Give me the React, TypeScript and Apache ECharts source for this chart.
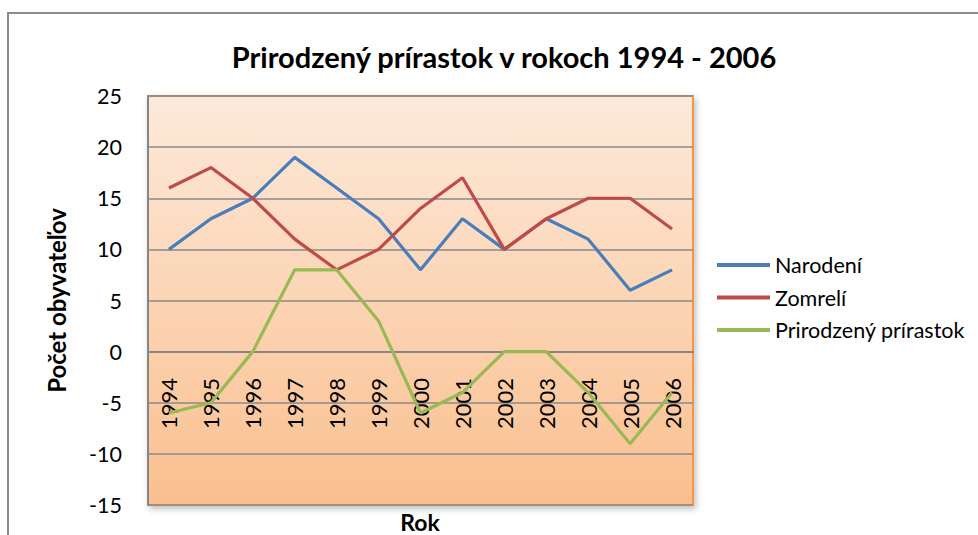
import React, { useEffect, useRef } from "react";
import * as echarts from "echarts";

const years = ["1994", "1995", "1996", "1997", "1998", "1999", "2000", "2001", "2002", "2003", "2004", "2005", "2006"];
const narodeni = [10, 13, 15, 19, 16, 13, 8, 13, 10, 13, 11, 6, 8];
const zomreli = [16, 18, 15, 11, 8, 10, 14, 17, 10, 13, 15, 15, 12];
const prirastok = [-6, -5, 0, 8, 8, 3, -6, -4, 0, 0, -4, -9, -4];

const FONT = "Lato";

export default function App() {
  const ref = useRef<HTMLDivElement>(null);
  useEffect(() => {
    if (!ref.current) return;
    const chart = echarts.init(ref.current, undefined, { renderer: "svg" });
    const mk = (name: string, data: number[], color: string) => ({
      name,
      type: "line",
      data,
      symbol: "none",
      lineStyle: { color, width: 3.2 },
      itemStyle: { color },
    });
    chart.setOption({
      animation: false,
      backgroundColor: "#ffffff",
      title: {
        text: "Prirodzený prírastok v rokoch 1994 - 2006",
        left: 499,
        textAlign: "center",
        top: 37,
        textStyle: { fontFamily: FONT, fontWeight: "bold", fontSize: 29, color: "#000" },
      },
      legend: {
        orient: "vertical",
        left: 712,
        top: 249,
        icon: "rect",
        itemWidth: 53,
        itemHeight: 4,
        itemGap: 10.5,
        textStyle: { fontFamily: FONT, fontSize: 21.5, color: "#000", lineHeight: 22 },
        data: ["Narodení", "Zomrelí", "Prirodzený prírastok"],
      },
      grid: {
        left: 148,
        right: 285,
        top: 96,
        bottom: 30,
        outerBoundsMode: "none",
        containLabel: false,
        show: true,
        borderColor: "#f79646",
        borderWidth: 2,
        shadowColor: "rgba(0,0,0,0.25)",
        shadowBlur: 6,
        shadowOffsetX: 2,
        shadowOffsetY: 3,
        backgroundColor: {
          type: "linear",
          x: 0, y: 0, x2: 0, y2: 1,
          colorStops: [
            { offset: 0, color: "#fdeadb" },
            { offset: 1, color: "#fabf8e" },
          ],
        },
      },
      xAxis: {
        type: "category",
        data: years,
        boundaryGap: true,
        position: "bottom",
        offset: -153,
        axisLine: { onZero: false, lineStyle: { color: "#868686", width: 2 } },
        axisTick: { show: false },
        axisLabel: { rotate: 90, margin: 26, fontFamily: FONT, fontSize: 22, color: "#000" },
        splitLine: { show: false },
      },
      yAxis: {
        type: "value",
        min: -15,
        max: 25,
        interval: 5,
        name: "Počet obyvateľov",
        nameLocation: "middle",
        nameRotate: 90,
        nameGap: 80,
        nameTextStyle: { fontFamily: FONT, fontWeight: "bold", fontSize: 24, color: "#000" },
        axisLine: { show: true, lineStyle: { color: "#868686", width: 2 } },
        axisTick: { show: false },
        axisLabel: { margin: 26, fontFamily: FONT, fontSize: 21.5, color: "#000" },
        splitLine: { lineStyle: { color: "#8a8a8a", width: 1.5 } },
      },
      graphic: [
        {
          type: "rect",
          shape: { x: 8, y: 13, width: 1100, height: 700 },
          style: { fill: "none", stroke: "#8c8c8c", lineWidth: 2 },
          silent: true,
        },
        {
          type: "text",
          x: 420,
          y: 522,
          style: {
            text: "Rok",
            fontFamily: FONT,
            fontWeight: "bold",
            fontSize: 23,
            fill: "#000",
            align: "center",
            verticalAlign: "middle",
          },
        },
      ],
      series: [
        mk("Narodení", narodeni, "#4a7ebb"),
        mk("Zomrelí", zomreli, "#be4b48"),
        mk("Prirodzený prírastok", prirastok, "#98b954"),
      ],
    });
    return () => chart.dispose();
  }, []);
  return <div ref={ref} style={{ position: "fixed", left: 0, top: 0, width: 978, height: 535 }} />;
}
